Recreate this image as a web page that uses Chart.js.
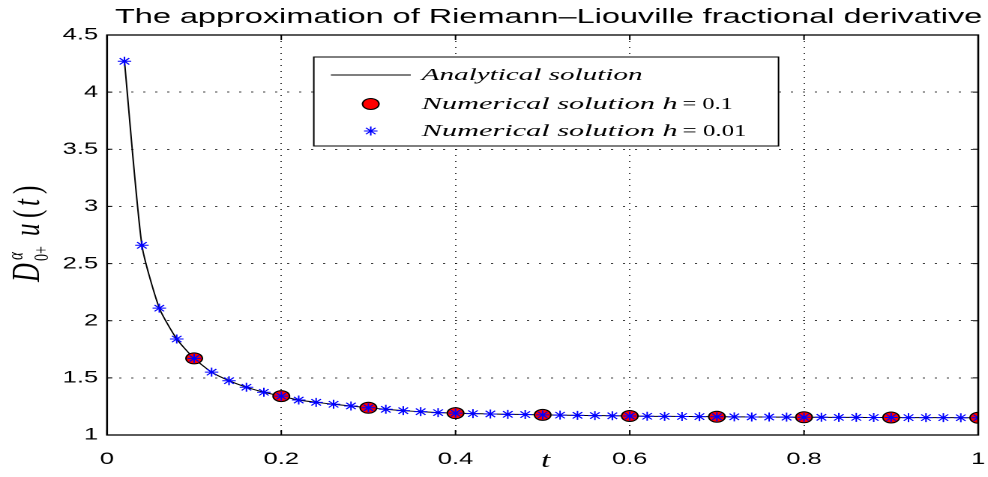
<!DOCTYPE html>
<html>
<head>
<meta charset="utf-8">
<script src="https://cdn.jsdelivr.net/npm/chart.js@4"></script>
<style>
  html, body { margin: 0; padding: 0; background: #fff; overflow: hidden; }
  /* the original figure is stretched sideways, so the chart is drawn narrow and widened */
  #wrap { width: 659px; height: 477px; transform: scaleX(1.4992); transform-origin: 0 0; }
</style>
</head>
<body>
<div id="wrap"><canvas id="chart" width="659" height="477"></canvas></div>
<script>
// t values of the h = 0.01 solution (every second node shown)
const tFine = [0.02, 0.04, 0.06, 0.08, 0.10, 0.12, 0.14, 0.16, 0.18, 0.20,
               0.22, 0.24, 0.26, 0.28, 0.30, 0.32, 0.34, 0.36, 0.38, 0.40,
               0.42, 0.44, 0.46, 0.48, 0.50, 0.52, 0.54, 0.56, 0.58, 0.60,
               0.62, 0.64, 0.66, 0.68, 0.70, 0.72, 0.74, 0.76, 0.78, 0.80,
               0.82, 0.84, 0.86, 0.88, 0.90, 0.92, 0.94, 0.96, 0.98, 1.00];
const uFine = [4.27, 2.66, 2.11, 1.84, 1.67, 1.55, 1.475, 1.418, 1.374, 1.34,
               1.306, 1.286, 1.269, 1.254, 1.238, 1.225, 1.213, 1.204, 1.196, 1.191,
               1.187, 1.184, 1.181, 1.179, 1.176, 1.174, 1.172, 1.170, 1.168, 1.166,
               1.164, 1.163, 1.162, 1.161, 1.160, 1.159, 1.158, 1.157, 1.156, 1.155,
               1.155, 1.154, 1.154, 1.153, 1.153, 1.152, 1.152, 1.152, 1.151, 1.151];
// analytical curve, read at the same t
const uExact = uFine.slice();
// h = 0.1 solution
const tCoarse = [0.1, 0.2, 0.3, 0.4, 0.5, 0.6, 0.7, 0.8, 0.9, 1.0];
const uCoarse = [1.67, 1.34, 1.238, 1.191, 1.176, 1.166, 1.160, 1.155, 1.153, 1.151];

const xTicks = [0, 0.2, 0.4, 0.6, 0.8, 1];
const yTicks = [1, 1.5, 2, 2.5, 3, 3.5, 4, 4.5];

const titleText = 'The approximation of Riemann\u2013Liouville fractional derivative';
const legendLabels = ['Analytical solution', 'Numerical solution h', 'Numerical solution h'];
const legendValues = ['', '= 0.1', '= 0.01'];

const toPoints = (xs, ys) => xs.map((x, i) => ({ x: x, y: ys[i] }));

// draw text squeezed / widened to a given width
function fitText(ctx, text, x, y, width, font) {
    ctx.save();
    ctx.font = font;
    const w = ctx.measureText(text).width;
    ctx.translate(x, y);
    ctx.scale(width / w, 1);
    ctx.fillText(text, 0, 0);
    ctx.restore();
}

const decorations = {
    id: 'decorations',
    afterDatasetsDraw(chart) {
        const { ctx, chartArea: a, scales } = chart;
        ctx.save();
        ctx.strokeStyle = '#000';
        ctx.lineWidth = 1;
        // inward ticks
        ctx.beginPath();
        yTicks.forEach(v => {
            const y = scales.y.getPixelForValue(v);
            ctx.moveTo(a.left, y); ctx.lineTo(a.left + 3.5, y);
            ctx.moveTo(a.right, y); ctx.lineTo(a.right - 3.5, y);
        });
        xTicks.forEach(v => {
            const x = scales.x.getPixelForValue(v);
            ctx.moveTo(x, a.bottom); ctx.lineTo(x, a.bottom - 5);
            ctx.moveTo(x, a.top); ctx.lineTo(x, a.top + 5);
        });
        ctx.stroke();
        // box
        ctx.lineWidth = 1.3;
        ctx.strokeRect(a.left, a.top, a.right - a.left, a.bottom - a.top);
        ctx.restore();
    },
    afterDraw(chart) {
        const { ctx, chartArea: a } = chart;
        ctx.save();
        ctx.fillStyle = '#000';
        ctx.textBaseline = 'alphabetic';

        // title
        fitText(ctx, titleText, 76.7, 23, 578.5, '20px "Liberation Sans", Arial, sans-serif');

        // x label
        ctx.font = 'italic 22px "Liberation Serif", serif';
        ctx.textAlign = 'center';
        ctx.fillText('t', (a.left + a.right) / 2 + 2, 467);
        ctx.textAlign = 'left';

        // y label  D^alpha_{0+} u(t)
        ctx.save();
        ctx.translate(26, 282);
        ctx.rotate(-Math.PI / 2);
        ctx.font = 'italic 26px "Liberation Serif", serif';
        ctx.fillText('D', 0, 0);
        ctx.font = 'italic 15px "Liberation Serif", serif';
        ctx.fillText('\u03b1', 22, -11);
        ctx.font = '14px "Liberation Serif", serif';
        ctx.fillText('0+', 21, 6);
        ctx.font = 'italic 25px "Liberation Serif", serif';
        ctx.fillText('u', 46, 0);
        ctx.font = '25px "Liberation Serif", serif';
        ctx.fillText('(', 64, 0);
        ctx.font = 'italic 25px "Liberation Serif", serif';
        ctx.fillText('t', 76, 0);
        ctx.font = '25px "Liberation Serif", serif';
        ctx.fillText(')', 88, 0);
        ctx.restore();

        // legend
        const lx = 209.3, ly = 57, lw = 310, lh = 89;
        ctx.fillStyle = '#fff';
        ctx.fillRect(lx, ly, lw, lh);
        ctx.strokeStyle = '#000';
        ctx.lineWidth = 1;
        ctx.strokeRect(lx, ly, lw, lh);
        ctx.fillStyle = '#000';

        const rows = [75, 104, 131];
        ctx.beginPath();
        ctx.moveTo(220.7, rows[0]); ctx.lineTo(274, rows[0]);
        ctx.stroke();
        // circle marker sample
        ctx.beginPath();
        ctx.arc(247.3, rows[1], 5.5, 0, Math.PI * 2);
        ctx.fillStyle = '#ff0000';
        ctx.fill();
        ctx.stroke();
        // star marker sample
        ctx.strokeStyle = '#0000ff';
        ctx.beginPath();
        const r = 4.5;
        for (let k = 0; k < 4; k++) {
            const ang = k * Math.PI / 4;
            ctx.moveTo(247.3 - r * Math.cos(ang), rows[2] - r * Math.sin(ang));
            ctx.lineTo(247.3 + r * Math.cos(ang), rows[2] + r * Math.sin(ang));
        }
        ctx.stroke();

        ctx.fillStyle = '#000';
        const italic = 'italic 17px "Liberation Serif", serif';
        const upright = '17px "Liberation Serif", serif';
        fitText(ctx, legendLabels[0], 281.3, rows[0] + 5, 147.3, italic);
        fitText(ctx, legendLabels[1], 281.3, rows[1] + 5, 170.7, italic);
        fitText(ctx, legendValues[1], 455.3, rows[1] + 5, 33.4, upright);
        fitText(ctx, legendLabels[2], 281.3, rows[2] + 5, 170.7, italic);
        fitText(ctx, legendValues[2], 455.3, rows[2] + 5, 42.7, upright);
        ctx.restore();
    }
};

const tickFont = { family: '"Liberation Sans", Arial, sans-serif', size: 17 };
const plainLabel = v => String(Math.round(v * 10) / 10);

new Chart(document.getElementById('chart'), {
    type: 'line',
    data: {
        datasets: [
            {
                label: 'Numerical solution h = 0.01',
                data: toPoints(tFine, uFine),
                showLine: false,
                pointStyle: 'star',
                pointRadius: 4.5,
                pointBorderColor: '#0000ff',
                pointBackgroundColor: '#0000ff',
                pointBorderWidth: 1,
                order: 0
            },
            {
                label: 'Numerical solution h = 0.1',
                data: toPoints(tCoarse, uCoarse),
                showLine: false,
                pointStyle: 'circle',
                pointRadius: 5.5,
                pointBackgroundColor: '#ff0000',
                pointBorderColor: '#000',
                pointBorderWidth: 1,
                order: 1
            },
            {
                label: 'Analytical solution',
                data: toPoints(tFine, uExact),
                borderColor: '#000',
                borderWidth: 1,
                pointRadius: 0,
                tension: 0.2,
                fill: false,
                order: 2
            }
        ]
    },
    options: {
        responsive: false,
        devicePixelRatio: 2,
        animation: false,
        layout: { padding: { top: 35, right: 1, bottom: 0, left: 0 } },
        plugins: {
            legend: { display: false },
            title: { display: false },
            tooltip: { enabled: false }
        },
        scales: {
            x: {
                type: 'linear',
                min: 0,
                max: 1,
                afterFit(scale) { scale.paddingLeft = 0; scale.paddingRight = 0; scale.height = 42; },
                afterBuildTicks(scale) { scale.ticks = xTicks.map(v => ({ value: v })); },
                ticks: { font: tickFont, color: '#000', padding: 14, maxRotation: 0, callback: plainLabel },
                grid: { color: 'rgba(0,0,0,0.75)', lineWidth: 1, drawTicks: false },
                border: { display: false, dash: [1, 5] }
            },
            y: {
                type: 'linear',
                min: 1,
                max: 4.5,
                afterFit(scale) { scale.width = 71.4; },
                afterBuildTicks(scale) { scale.ticks = yTicks.map(v => ({ value: v })); },
                ticks: { font: tickFont, color: '#000', padding: 6, callback: plainLabel },
                grid: { color: 'rgba(0,0,0,0.75)', lineWidth: 1, drawTicks: false },
                border: { display: false, dash: [1.5, 6.5] }
            }
        }
    },
    plugins: [decorations]
});
</script>
</body>
</html>
